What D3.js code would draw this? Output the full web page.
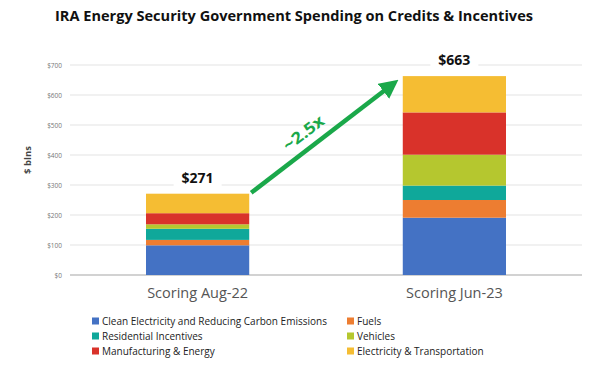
<!DOCTYPE html>
<html><head><meta charset="utf-8">
<script src="https://cdn.jsdelivr.net/npm/d3@7/dist/d3.min.js"></script>
<style>body{margin:0;background:#fff;} svg{display:block;}</style>
</head><body>
<svg id="c" width="597" height="370"></svg>
<script>
const categories = ["Scoring Aug-22", "Scoring Jun-23"];
const seriesNames = ["Clean Electricity and Reducing Carbon Emissions", "Fuels", "Residential Incentives", "Vehicles", "Manufacturing & Energy", "Electricity & Transportation"];
const cleanElectricity = [99, 191];
const fuels = [18, 59];
const residential = [37, 48];
const vehicles = [15, 103];
const manufacturing = [37, 141];
const electricityTransport = [65, 121];
const totals = [271, 663];
const yTicks = [0, 100, 200, 300, 400, 500, 600, 700];
const colors = ["#4472C4", "#ED7D31", "#0FA89A", "#B5C72F", "#D9322A", "#F5BD33"];
const multiplierLabel = "~2.5x";

const seriesValues = [cleanElectricity, fuels, residential, vehicles, manufacturing, electricityTransport];
const rows = categories.map((c, i) => {
  const r = {cat: c};
  seriesNames.forEach((s, j) => r[s] = seriesValues[j][i]);
  return r;
});
const stacked = d3.stack().keys(seriesNames)(rows);

const svg = d3.select("#c");
const mLeft = 70, mRight = 582, mTop = 65, mBottom = 275;
const x = d3.scaleBand().domain(categories).range([mLeft, mRight]).paddingInner(0.598).paddingOuter(0.296);
const y = d3.scaleLinear().domain([0, 700]).range([mBottom, mTop]);

svg.append("text").attr("x", 294).attr("y", 21).attr("text-anchor", "middle")
  .attr("font-family", "Open Sans, sans-serif").attr("font-weight", "bold").attr("font-size", 15)
  .attr("textLength", 478).attr("lengthAdjust", "spacingAndGlyphs")
  .attr("fill", "#111").text("IRA Energy Security Government Spending on Credits & Incentives");

svg.append("g").selectAll("line").data(yTicks.slice(1)).join("line")
  .attr("x1", mLeft).attr("x2", mRight).attr("y1", d => y(d)).attr("y2", d => y(d))
  .attr("stroke", "#e3e3e3").attr("stroke-width", 1);
svg.append("line").attr("x1", mLeft).attr("x2", mRight).attr("y1", y(0)).attr("y2", y(0))
  .attr("stroke", "#a6a6a6").attr("stroke-width", 1.2);

const yAxis = d3.axisLeft(y).tickValues(yTicks).tickSize(0).tickPadding(8).tickFormat(d => "$" + d);
const ga = svg.append("g").attr("transform", `translate(${mLeft},0)`).call(yAxis);
ga.select(".domain").remove();
ga.selectAll("text").attr("font-family", "Open Sans, sans-serif").attr("font-size", 6.5).attr("fill", "#777");

svg.append("text").attr("transform", "translate(31,160) rotate(-90)").attr("text-anchor", "middle")
  .attr("font-family", "Open Sans, sans-serif").attr("font-weight", "bold").attr("font-size", 9.5)
  .attr("fill", "#444").text("$ blns");

svg.append("g").selectAll("g").data(stacked).join("g").attr("fill", (d, i) => colors[i])
  .selectAll("rect").data(d => d).join("rect")
  .attr("x", d => x(d.data.cat)).attr("width", x.bandwidth())
  .attr("y", d => y(d[1])).attr("height", d => y(d[0]) - y(d[1]));

categories.forEach((c, i) => {
  const cx = x(c) + x.bandwidth() / 2;
  svg.append("rect").attr("x", cx - 24).attr("y", y(totals[i]) - 25).attr("width", 48).attr("height", 18).attr("fill", "#fff");
  svg.append("text").attr("x", cx).attr("y", y(totals[i]) - 11).attr("text-anchor", "middle")
    .attr("font-family", "Open Sans, sans-serif").attr("font-weight", "bold").attr("font-size", 14)
    .attr("fill", "#111").text("$" + totals[i]);
});

const gx = svg.append("g").attr("transform", `translate(0,${mBottom})`)
  .call(d3.axisBottom(x).tickSize(0).tickPadding(13));
gx.select(".domain").remove();
gx.selectAll("text").attr("font-family", "Open Sans, sans-serif").attr("font-size", 14.5).attr("fill", "#555");

const x0 = x(categories[0]) + x.bandwidth() + 2, y0 = y(totals[0]) - 1;
const x1 = x(categories[1]) - 10, y1 = y(totals[1]) + 8;
const defs = svg.append("defs");
defs.append("marker").attr("id", "ah").attr("viewBox", "0 0 10 10").attr("refX", 2).attr("refY", 5)
  .attr("markerWidth", 4.2).attr("markerHeight", 4.2).attr("orient", "auto")
  .append("path").attr("d", "M0,0 L10,5 L0,10 Z").attr("fill", "#1AA84A");
const ang = Math.atan2(y1 - y0, x1 - x0);
svg.append("line").attr("x1", x0).attr("y1", y0)
  .attr("x2", x1 - 8 * Math.cos(ang)).attr("y2", y1 - 8 * Math.sin(ang))
  .attr("stroke", "#1AA84A").attr("stroke-width", 4.5).attr("marker-end", "url(#ah)");
const mx = (x0 + x1) / 2 - 15, my = (y0 + y1) / 2 - 1;
svg.append("text").attr("transform", `translate(${mx},${my}) rotate(${ang * 180 / Math.PI})`)
  .attr("text-anchor", "middle").attr("font-family", "Open Sans, sans-serif").attr("font-weight", "bold")
  .attr("font-size", 16).attr("textLength", 47).attr("lengthAdjust", "spacingAndGlyphs")
  .attr("fill", "#1AA84A").text(multiplierLabel);

const legendPos = [[92, 321], [347, 321], [92, 336], [347, 336], [92, 351], [347, 351]];
const lg = svg.append("g").selectAll("g").data(seriesNames).join("g")
  .attr("transform", (d, i) => `translate(${legendPos[i][0]},${legendPos[i][1]})`);
lg.append("rect").attr("x", 0).attr("y", -3.5).attr("width", 7).attr("height", 7).attr("fill", (d, i) => colors[i]);
lg.append("text").attr("x", 10).attr("y", 4).attr("font-family", "Open Sans, sans-serif")
  .attr("font-size", 10).attr("fill", "#222").text(d => d);
</script>
</body></html>
